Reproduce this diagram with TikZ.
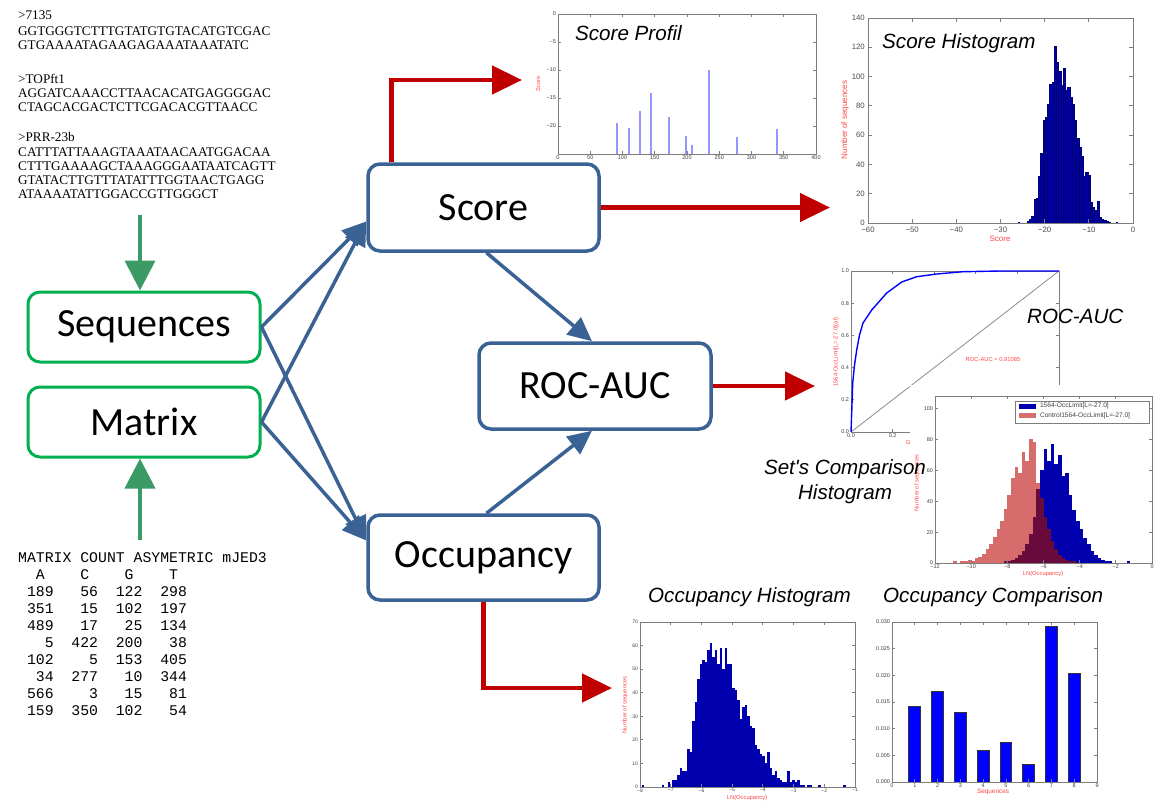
\documentclass[tikz,border=0pt]{standalone}
\usepackage{fontspec}
\setmainfont{Carlito}
\newfontfamily\serifT{Liberation Serif}
\newfontfamily\monoT{Liberation Mono}
\newfontfamily\arialT{Liberation Sans}
\usetikzlibrary{arrows.meta,calc}
\definecolor{boxgreen}{RGB}{0,176,80}
\definecolor{arrgreen}{RGB}{60,155,100}
\definecolor{boxblue}{RGB}{58,98,148}
\definecolor{arrred}{RGB}{192,0,0}
\definecolor{histblue}{RGB}{0,0,175}
\definecolor{histedge}{RGB}{0,0,110}
\definecolor{profblue}{RGB}{150,150,255}
\definecolor{axgray}{RGB}{125,125,125}
\definecolor{lblred}{RGB}{255,70,70}
\definecolor{ctrlred}{RGB}{215,108,108}
\definecolor{overlapc}{RGB}{105,10,60}
\definecolor{barblue}{RGB}{0,0,255}
\newlength\mcw
\setlength\mcw{8.88pt}
\newcommand\mrow[4]{\makebox[4\mcw][r]{#1}\makebox[5\mcw][r]{#2}\makebox[5\mcw][r]{#3}\makebox[5\mcw][r]{#4}}
\begin{document}
\begin{tikzpicture}[x=1pt,y=-1pt,
 inbox/.style={draw=boxgreen, line width=3pt, rounded corners=12pt, fill=white, minimum width=232pt, minimum height=70pt, font=\fontsize{40}{44}\selectfont},
 procbox/.style={draw=boxblue, line width=3.5pt, rounded corners=12pt, fill=white, minimum width=231pt, minimum height=86pt, font=\fontsize{40}{44}\selectfont},
 bluearrow/.style={draw=boxblue, line width=3.5pt, -{Triangle[length=24pt,width=22pt]}},
 redarrow/.style={draw=arrred, line width=4.5pt, -{Triangle[length=30pt,width=28pt]}},
 greenarrow/.style={draw=arrgreen, line width=4pt, -{Triangle[length=30pt,width=30pt]}},
 seqline/.style={anchor=base west, inner sep=0pt, font=\serifT\fontsize{13.2}{14}\selectfont},
 matline/.style={anchor=base west, inner sep=0pt, font=\monoT\fontsize{14.8}{17}\selectfont},
 plottitle/.style={font=\arialT\itshape\fontsize{20.6}{25}\selectfont, inner sep=0pt},
 pframe/.style={draw=axgray, line width=0.8pt},
 ticklbl/.style={font=\arialT\fontsize{5.5}{6}\selectfont, text=black!75, inner sep=0.8pt},
 bigtick/.style={font=\arialT\fontsize{7.8}{9}\selectfont, text=black!70, inner sep=1pt},
 axlbl/.style={font=\arialT\fontsize{5.8}{7}\selectfont, text=lblred, inner sep=0pt},
 bigaxlbl/.style={font=\arialT\fontsize{8}{9}\selectfont, text=lblred, inner sep=0pt}
]
\useasboundingbox[fill=white] (0,0) rectangle (1161,809);

% ---------------- sequences text ----------------
\node[seqline] (s1) at (18,19) {>7135};
\node[seqline] (s2) at (18,35.5) {GGTGGGTCTTTGTATGTGTACATGTCGAC};
\node[seqline] (s3) at (18,49.5) {GTGAAAATAGAAGAGAAATAAATATC};
\node[seqline] (s4) at (18,83) {>TOPft1};
\node[seqline] (s5) at (18,97) {AGGATCAAACCTTAACACATGAGGGGAC};
\node[seqline] (s6) at (18,111) {CTAGCACGACTCTTCGACACGTTAACC};
\node[seqline] (s7) at (18,141) {>PRR-23b};
\node[seqline] (s8) at (18,156) {CATTTATTAAAGTAAATAACAATGGACAA};
\node[seqline] (s9) at (18,170) {CTTTGAAAAGCTAAAGGGAATAATCAGTT};
\node[seqline] (s10) at (18,184) {GTATACTTGTTTATATTTGGTAACTGAGG};
\node[seqline] (s11) at (18,198) {ATAAAATATTGGACCGTTGGGCT};

% ---------------- matrix text ----------------
\node[matline] (m0) at (18,562.5) {MATRIX COUNT ASYMETRIC mJED3};
\node[matline] (m1) at (18,579.4) {\mrow{A\hphantom{0}}{C\hphantom{0}}{G\hphantom{0}}{T\hphantom{0}}};
\node[matline] (m2) at (18,596.4) {\mrow{189}{56}{122}{298}};
\node[matline] (m3) at (18,613.3) {\mrow{351}{15}{102}{197}};
\node[matline] (m4) at (18,630.3) {\mrow{489}{17}{25}{134}};
\node[matline] (m5) at (18,647.2) {\mrow{5}{422}{200}{38}};
\node[matline] (m6) at (18,664.2) {\mrow{102}{5}{153}{405}};
\node[matline] (m7) at (18,681.1) {\mrow{34}{277}{10}{344}};
\node[matline] (m8) at (18,698.1) {\mrow{566}{3}{15}{81}};
\node[matline] (m9) at (18,715) {\mrow{159}{350}{102}{54}};

% ---------------- Score Profil plot ----------------
\foreach \x/\t in {617/123,628.7/128,640/111,651/93,669/117,686/136,692/145,709/70,737/137,777/129}
  \fill[profblue] (\x-1.2,154) rectangle (\x+1.2,\t);
\draw[pframe] (558,14) rectangle (816,154);
\foreach \k/\l in {0/0,1/−5,2/−10,3/−15,4/−20}{
  \draw[pframe] (558,14+28*\k) -- ++(3,0);
  \draw[pframe] (816,14+28*\k) -- ++(-3,0);
  \node[ticklbl,anchor=east] (p1y\k) at (557,14+28*\k) {\l};
}
\foreach \k/\l in {0/0,1/50,2/100,3/150,4/200,5/250,6/300,7/350,8/400}{
  \draw[pframe] (558+32.25*\k,154) -- ++(0,-3);
  \draw[pframe] (558+32.25*\k,14) -- ++(0,3);
  \node[ticklbl,anchor=north] (p1x\k) at (558+32.25*\k,154.5) {\l};
}
\node[axlbl,rotate=90] (p1yl) at (538,84) {Score};
\node[plottitle,anchor=west] (p1t) at (575,33) {Score Profil};

% ---------------- Score Histogram plot ----------------
\foreach \h [count=\i from 0] in {1,3,5,16,17,32,48,70,72,81,95,96,121,110,104,94,106,91,93,86,81,70,58,52,46,32,35,33,14,11,9,15,4,3,2,1,0.5}
  \filldraw[fill=histblue, draw=histedge, line width=0.15pt] (1027+2.25*\i,223) rectangle ++(2.25,-1.465*\h);
\fill[histblue] (1018,223) rectangle ++(2.25,-1.5);
\fill[histblue] (1116,223) rectangle ++(2.25,-1.5);
\draw[pframe] (868,18) rectangle (1133,223);
\foreach \k/\l in {0/0,1/20,2/40,3/60,4/80,5/100,6/120,7/140}{
  \draw[pframe] (868,223-29.29*\k) -- ++(4,0);
  \draw[pframe] (1133,223-29.29*\k) -- ++(-4,0);
  \node[bigtick,anchor=east] (p2y\k) at (866,223-29.29*\k) {\l};
}
\foreach \k/\l in {0/−60,1/−50,2/−40,3/−30,4/−20,5/−10,6/0}{
  \draw[pframe] (868+44.17*\k,223) -- ++(0,-4);
  \draw[pframe] (868+44.17*\k,18) -- ++(0,4);
  \node[bigtick,anchor=north] (p2x\k) at (868+44.17*\k,225.5) {\l};
}
\node[bigaxlbl,rotate=90] (p2yl) at (845,120) {Number of sequences};
\node[bigaxlbl] (p2xl) at (1000,239) {Score};
\node[plottitle,anchor=west] (p2t) at (882,43) {Score Histogram};

% ---------------- ROC plot ----------------
\draw[pframe] (851,271) rectangle (1059,432);
\foreach \k/\l in {0/0.0,1/0.2,2/0.4,3/0.6,4/0.8,5/1.0}{
  \draw[pframe] (851,432-32.2*\k) -- ++(3,0);
  \draw[pframe] (1059,432-32.2*\k) -- ++(-3,0);
  \node[ticklbl,anchor=east] (p3y\k) at (850,432-32.2*\k) {\l};
  \draw[pframe] (851+41.6*\k,432) -- ++(0,-3);
  \draw[pframe] (851+41.6*\k,271) -- ++(0,3);
  \node[ticklbl,anchor=north] (p3x\k) at (851+41.6*\k,432.5) {\l};
}
\draw[black!45, line width=0.8pt] (851,432) -- (1059,271);
\draw[barblue, line width=1.4pt, line join=round] (851,432) -- (851.8,410) -- (852.7,383) -- (854.5,365) -- (856.7,350) -- (859.5,335) -- (863,323) -- (871.7,310) -- (886.7,293) -- (901.7,282) -- (916.7,276.7) -- (936.7,274) -- (963,271.7) -- (1000,271) -- (1059,271);
\node[axlbl] (p3auc) at (993,359) {ROC-AUC = 0.91085};
\node[axlbl,rotate=90] (p3yl) at (836,352) {1564-OccLimit[L=-27.0](at)};
\node[axlbl] (p3xl) at (908,442) {G};
\node[plottitle,anchor=west] (p3t) at (1027,316) {ROC-AUC};

% ---------------- Set's comparison plot ----------------
\fill[white] (910,385) rectangle (1158,580);
\foreach \r/\b [count=\i from 0] in {1/0,0/0,1/0,1/0,2/0,1/0,3/0,4/0,6/0,9/0,12/0,17/0,22/0,27/0,35/1,44/1,55/2,62/3,58/5,72/8,66/12,80/19,78/30,52/48,42/60,30/74,22/66,14/77,9/64,5/70,3/56,2/58,1/44,1/34,0/27,0/22,0/16,0/12,0/8,0/5,0/3,0/2,0/1,0/1,0/0,0/0,0/0,0/0,0/1}{
  \pgfmathsetmacro\mm{min(\r,\b)}
  \fill[ctrlred] (953.1+3.617*\i,563) rectangle ++(3.617,-1.545*\r);
  \fill[histblue] (953.1+3.617*\i,563) rectangle ++(3.617,-1.545*\b);
  \fill[overlapc] (953.1+3.617*\i,563) rectangle ++(3.617,-1.545*\mm);
}
\draw[pframe] (935,396) rectangle (1152,563);
\foreach \k/\l in {0/0,1/20,2/40,3/60,4/80,5/100}{
  \draw[pframe] (935,563-30.9*\k) -- ++(3,0);
  \draw[pframe] (1152,563-30.9*\k) -- ++(-3,0);
  \node[ticklbl,anchor=east] (p4y\k) at (934,563-30.9*\k) {\l};
}
\foreach \k/\l in {0/−12,1/−10,2/−8,3/−6,4/−4,5/−2,6/0}{
  \draw[pframe] (935+36.17*\k,563) -- ++(0,-3);
  \draw[pframe] (935+36.17*\k,396) -- ++(0,3);
  \node[ticklbl,anchor=north] (p4x\k) at (935+36.17*\k,563.5) {\l};
}
\draw[axgray, fill=white, line width=0.6pt] (1015,401) rectangle (1149,423);
\fill[histblue] (1019,403.5) rectangle (1036,408.5);
\fill[ctrlred] (1019,413) rectangle (1036,418);
\node[ticklbl,anchor=west,font=\arialT\fontsize{6.6}{7}\selectfont] (p4l1) at (1039,406) {1564-OccLimit[L=-27.0]};
\node[ticklbl,anchor=west,font=\arialT\fontsize{6.6}{7}\selectfont] (p4l2) at (1039,415.5) {Control1564-OccLimit[L=-27.0]};
\node[axlbl,rotate=90] (p4yl) at (917,483) {Number of sequences};
\node[axlbl] (p4xl) at (1043,574) {LN(Occupancy)};
\node[plottitle,align=center] (p4t) at (845,482) {Set's Comparison\\Histogram};

% ---------------- Occupancy Histogram plot ----------------
\foreach \h [count=\i from 0] in {3,3,5,8,7,7,16,15,28,36,46,52,54,53,58,61,55,58,52,59,50,59,52,52,42,41,37,29,34,35,30,26,25,18,16,14,13,10,15,8,5,7,4,3,2,2,7,2,3,2,3,1,1,0,1,1}
  \fill[histblue] (672+2.5*\i,787) rectangle ++(2.5,-2.357*\h);
\foreach \x/\h in {641.7/1,661.7/1,667.5/2,818/1,843/1}
  \fill[histblue] (\x,787) rectangle ++(2.5,-2.357*\h);
\draw[pframe] (640,622) rectangle (855,787);
\foreach \k/\l in {0/0,1/10,2/20,3/30,4/40,5/50,6/60,7/70}{
  \draw[pframe] (640,787-23.57*\k) -- ++(3,0);
  \draw[pframe] (855,787-23.57*\k) -- ++(-3,0);
  \node[ticklbl,anchor=east,font=\arialT\fontsize{5}{6}\selectfont] (p5y\k) at (639,787-23.57*\k) {\l};
}
\foreach \k/\l in {0/−8,1/−7,2/−6,3/−5,4/−4,5/−3,6/−2,7/−1}{
  \draw[pframe] (640+30.71*\k,787) -- ++(0,-3);
  \draw[pframe] (640+30.71*\k,622) -- ++(0,3);
  \node[ticklbl,anchor=north,font=\arialT\fontsize{5}{6}\selectfont] (p5x\k) at (640+30.71*\k,787.5) {\l};
}
\node[axlbl,rotate=90] (p5yl) at (625,705) {Number of sequences};
\node[axlbl] (p5xl) at (747,798) {LN(Occupancy)};
\node[plottitle,anchor=west] (p5t) at (648,597) {Occupancy Histogram};

% ---------------- Occupancy Comparison plot ----------------
\foreach \i/\h in {1/75.7,2/90.7,3/69.9,4/31.5,5/40,6/17.6,7/156.3,8/108.8}
  \filldraw[fill=barblue, draw=black!80, line width=0.3pt] (892+22.78*\i-6.2,782) rectangle ++(11.8,-\h);
\draw[pframe] (892,622) rectangle (1097,782);
\foreach \k/\l in {0/0.000,1/0.005,2/0.010,3/0.015,4/0.020,5/0.025,6/0.030}{
  \draw[pframe] (892,782-26.67*\k) -- ++(3,0);
  \draw[pframe] (1097,782-26.67*\k) -- ++(-3,0);
  \node[ticklbl,anchor=east] (p6y\k) at (891,782-26.67*\k) {\l};
}
\foreach \k in {0,...,9}{
  \draw[pframe] (892+22.78*\k,782) -- ++(0,-3);
  \draw[pframe] (892+22.78*\k,622) -- ++(0,3);
  \node[ticklbl,anchor=north] (p6x\k) at (892+22.78*\k,782.5) {\k};
}
\node[axlbl,font=\arialT\fontsize{6.4}{7}\selectfont] (p6xl) at (993,791.5) {Sequences};
\node[plottitle,anchor=west] (p6t) at (883,597) {Occupancy Comparison};

% ---------------- flow boxes ----------------
\node[inbox] (seq) at (144,327) {Sequences};
\node[inbox] (mat) at (144,422) {Matrix};
\node[procbox, minimum height=87pt] (score) at (483.5,207.5) {Score};
\node[procbox, minimum width=232pt] (roc) at (595,386) {ROC-AUC};
\node[procbox, minimum height=85pt] (occ) at (483.5,557.5) {Occupancy};

% green arrows
\coordinate (seqsrc) at (140,215);
\coordinate (matsrc) at (140,540);
\draw[greenarrow] (seqsrc) -- (seqsrc |- seq.north);
\draw[greenarrow] (matsrc) -- (matsrc |- mat.south);

% blue arrows
\coordinate (scoreIn) at ($(score.west)+(0,14)$);
\coordinate (occIn) at ($(occ.west)+(0,-17)$);
\draw[bluearrow] (seq.east) -- (scoreIn);
\draw[bluearrow] (mat.east) -- (scoreIn);
\draw[bluearrow] (seq.east) -- (occIn);
\draw[bluearrow] (mat.east) -- (occIn);
\draw[bluearrow] ($(score.south)+(3,0)$) -- ($(roc.north)+(-3,0)$);
\draw[bluearrow] ($(occ.north)+(3,0)$) -- ($(roc.south)+(-3,0)$);

% red arrows
\coordinate (profIn) at (522,80);
\coordinate (histIn) at (830,207.5);
\coordinate (rocIn) at (815,386);
\coordinate (occhIn) at (612,688);
\draw[redarrow] ($(score.north west)+(25,0)$) |- (profIn);
\draw[redarrow] (score.east) -- (histIn);
\draw[redarrow] (roc.east) -- (rocIn);
\draw[redarrow] (occ.south) |- (occhIn);
\end{tikzpicture}
\end{document}
